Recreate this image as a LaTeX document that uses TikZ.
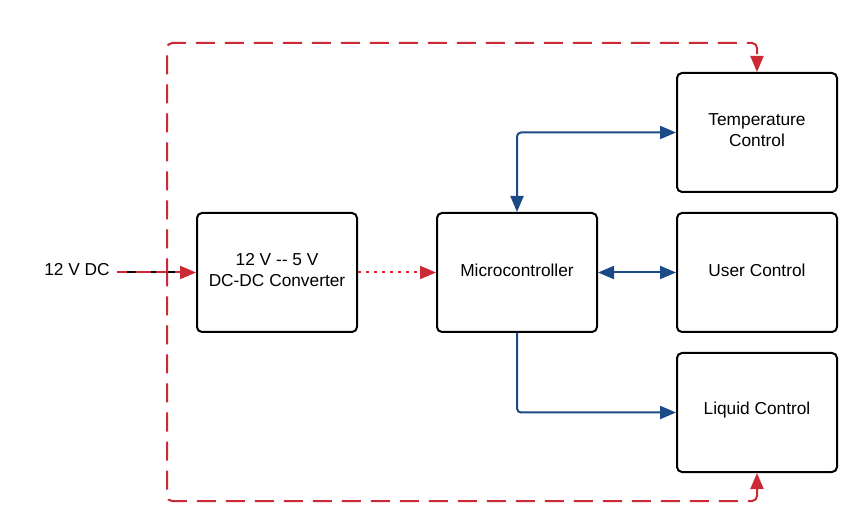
\documentclass[tikz,border=0pt]{standalone}
\usepackage{fontspec}
\setmainfont{Liberation Sans}
\usetikzlibrary{arrows.meta}
\definecolor{lred}{RGB}{204,41,54}
\definecolor{lblue}{RGB}{27,74,135}
\begin{document}
\begin{tikzpicture}[x=1pt,y=-1pt,
  >={Triangle[length=16pt,width=13pt]},
  box/.style={draw,line width=2pt,rounded corners=5pt,minimum width=160pt,minimum height=119pt,inner sep=0pt,
    label={[lbl,align=center,yshift=2pt]center:#1}},
  lbl/.style={font=\fontsize{17.3}{21}\selectfont,inner sep=0pt},
  bconn/.style={draw=lblue,line width=2pt,rounded corners=4pt},
  rdash/.style={draw=lred,line width=2pt,rounded corners=5pt,dash pattern=on 20pt off 10pt},
  rdot/.style={draw=lred,line width=2pt,dash pattern=on 2.5pt off 5.5pt}]
\useasboundingbox (0,0) rectangle (860,529);
\fill[white] (0,0) rectangle (860,529);
\node[box={12 V -{}- 5 V\\DC-DC Converter}] (conv) at (277,272.5) {};
\node[box={Microcontroller}] (mcu) at (517,272.5) {};
\node[box={Temperature\\Control}] (temp) at (757,132.5) {};
\node[box={User Control}] (user) at (757,272.5) {};
\node[box={Liquid Control}] (liq) at (757,412.5) {};
\node[lbl] (in) at (77,270) {12 V DC};
\coordinate (a) at (117,272.5);
\coordinate (b) at (190,272.5);
\coordinate (j) at (167,272.5);
\coordinate (tl) at (167,43);
\coordinate (bl) at (167,501);
% input
\draw[line width=2pt] (a) -- (b);
\draw[rdash,->,lred,dash pattern=on 10pt off 9pt on 15pt off 5pt] (a) -- (conv.west);
% power loop
\draw[rdash,->,lred,dash pattern=on 19pt off 10pt,dash phase=5pt] (j) -- (tl) -| (temp.north);
\draw[rdash,->,lred,dash pattern=on 19pt off 10pt,dash phase=5pt] (j) -- (bl) -| (liq.south);
% dotted
\draw[rdot,->,lred] (conv.east) -- (mcu.west);
% blue
\draw[bconn,<->,lblue] (mcu.north) |- (temp.west);
\draw[bconn,<->,lblue] (mcu.east) -- (user.west);
\draw[bconn,->,lblue] (mcu.south) |- (liq.west);
\end{tikzpicture}
\end{document}
